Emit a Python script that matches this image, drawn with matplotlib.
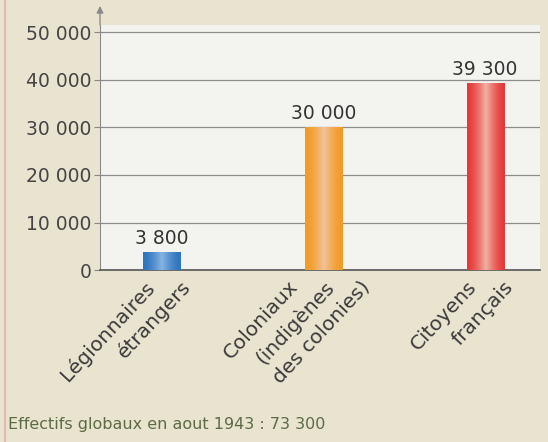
import numpy as np
import matplotlib
matplotlib.use('Agg')
import matplotlib.pyplot as plt
from matplotlib.colors import LinearSegmentedColormap
from matplotlib.transforms import ScaledTranslation

categories = ['Légionnaires\nétrangers', 'Coloniaux\n(indigènes\ndes colonies)', 'Citoyens\nfrançais']
values = [3800, 30000, 39300]
value_labels = ['3 800', '30 000', '39 300']
yticks = [0, 10000, 20000, 30000, 40000, 50000]
ytick_labels = ['0', '10 000', '20 000', '30 000', '40 000', '50 000']
note = 'Effectifs globaux en aout 1943 : 73 300'

# edge colour / centre colour of each bar
edge_cols = ['#2e74c0', '#f39a22', '#e63838']
mid_cols = ['#86b6e2', '#f1c29a', '#f0b2a2']

fig = plt.figure(figsize=(5.48, 4.42), dpi=100)
fig.patch.set_facecolor('#e9e4d0')
ax = fig.add_axes([0.1825, 0.389, 0.803, 0.554])
ax.set_facecolor('#f3f3f0')

x = np.arange(len(values))
w = 0.23
bars = ax.bar(x, values, width=w, color=edge_cols, zorder=3)

# horizontal gradient inside each bar (darker edges, light centre)
grad = np.abs(np.linspace(-1, 1, 64))[None, :]
for b, c0, c1 in zip(bars, edge_cols, mid_cols):
    cmap = LinearSegmentedColormap.from_list('g', [c1, c0])
    im = ax.imshow(1 - (1 - grad) ** 1.5, cmap=cmap, aspect='auto',
                   extent=[b.get_x(), b.get_x() + b.get_width(), 0, b.get_height()],
                   zorder=4, vmin=0, vmax=1)
    im.set_clip_path(b)

for xi, v, lab in zip(x, values, value_labels):
    ax.annotate(lab, (xi, v), xytext=(0, 3), textcoords='offset points',
                ha='center', va='bottom', fontsize=13.5, color='#333333', zorder=5)

ax.set_xlim(-0.384, 2.34)
ax.set_ylim(0, 51500)
ax.set_yticks(yticks)
ax.set_yticklabels(ytick_labels, fontsize=13.5, color='#444444')
ax.set_xticks(x)
ax.set_xticklabels([])
ax.tick_params(axis='x', length=0)
ax.tick_params(axis='y', length=4, color='#888888', pad=2)
ax.grid(axis='y', color='#8c8c8c', linewidth=0.9, zorder=1)
ax.set_axisbelow(True)

# category labels: each line rotated, lines staggered sideways
for xi, cat in zip(x, categories):
    lines = cat.split('\n')
    n = len(lines)
    for i, line in enumerate(lines):
        dx = 0 + (i - (n - 1) / 2) * 36  # pixels
        tr = ax.get_xaxis_transform() + ScaledTranslation(dx / 100, -7 / 100, fig.dpi_scale_trans)
        ax.text(xi, 0, line, transform=tr, rotation=47, rotation_mode='anchor',
                ha='right', va='top', fontsize=14.5, color='#3a3a3a')

for s in ['top', 'right']:
    ax.spines[s].set_visible(False)
ax.spines['left'].set_color('#8a8a8a')
ax.spines['bottom'].set_color('#555555')
ax.spines['bottom'].set_linewidth(1.2)

# arrow on top of the y axis
ax.annotate('', xy=(0, 1.09), xytext=(0, 0.99), xycoords='axes fraction',
            arrowprops=dict(arrowstyle='-|>', color='#8a8a8a', lw=1,
                            mutation_scale=10), annotation_clip=False)

fig.text(8 / 548, 1 - 425 / 442, note, fontsize=11.5, color='#5b6b45',
         ha='left', va='center')
fig.add_artist(plt.Line2D([5 / 548, 5 / 548], [0, 1], color='#e6b8b4', lw=1.5))

fig.savefig('out.png', dpi=100, facecolor=fig.get_facecolor())
